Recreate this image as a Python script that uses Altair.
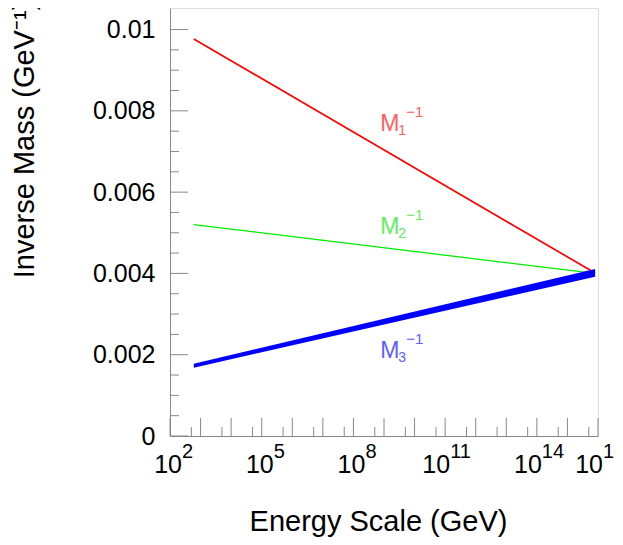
import altair as alt
import pandas as pd

# Line endpoints (energy in GeV, inverse mass in GeV^-1)
energy_ends = [600.0, 8.0e15]
m1_inv = [0.00977, 0.00401]
m2_inv = [0.00520, 0.00400]
m3_inv_low = [0.00168, 0.00392]
m3_inv_high = [0.00178, 0.00411]

# Curve labels
label_energy = [7.5e8, 7.5e8, 7.5e8]
label_value = [0.00750, 0.00497, 0.00191]
label_sub = ["1", "2", "3"]
label_colors = ["#ff6060", "#60ee60", "#6060ff"]

# Axis ticks
x_major_ticks = [1e2, 1e3, 1e4, 1e5, 1e6, 1e7, 1e8, 1e9, 1e10, 1e11, 1e12, 1e13, 1e14, 1e15, 1e16]
x_minor_ticks = [5e2, 5e3, 5e4, 5e5, 5e6, 5e7, 5e8, 5e9, 5e10, 5e11, 5e12, 5e13, 5e14, 5e15]
y_major_ticks = [0.0, 0.002, 0.004, 0.006, 0.008, 0.010]
y_minor_ticks = [0.0005, 0.001, 0.0015, 0.0025, 0.003, 0.0035, 0.0045, 0.005, 0.0055,
                 0.0065, 0.007, 0.0075, 0.0085, 0.009, 0.0095]
x_label_values = [1e2, 1e5, 1e8, 1e11, 1e14, 1e16]
x_label_exponents = ["2", "5", "8", "11", "14", "16"]

FONT = "Liberation Sans"
GRAY = "#888888"

xscale = alt.Scale(type="log", domain=[1e2, 1e16], nice=False)
yscale = alt.Scale(domain=[0, 0.01053], nice=False)

xaxis = alt.Axis(labels=False, ticks=False, tickSize=0, grid=False, domainColor=GRAY,
                 title="Energy Scale (GeV)", titleFont=FONT, titleFontSize=29,
                 titleFontWeight="normal", titleColor="black", titleX=208, titleY=94,
                 titleBaseline="alphabetic", titleAlign="center")
yaxis = alt.Axis(values=y_major_ticks, ticks=False, tickSize=0, grid=False, domainColor=GRAY,
                 labelFont=FONT, labelFontSize=25, labelColor="black", labelPadding=15,
                 labelExpr="datum.value == 0 ? '0' : format(datum.value, '.3~f')",
                 title="Inverse Mass (GeV⁻¹)", titleFont=FONT, titleFontSize=29,
                 titleFontWeight="normal", titleColor="black", titleX=-137, titleY=131,
                 titleBaseline="alphabetic", titleAlign="center")


def X(field):
    return alt.X(f"{field}:Q", scale=xscale, axis=xaxis)


def Y(field):
    return alt.Y(f"{field}:Q", scale=yscale, axis=yaxis)


lines_df = pd.DataFrame({"E": energy_ends, "m1": m1_inv, "m2": m2_inv,
                         "lo": m3_inv_low, "hi": m3_inv_high})

red = alt.Chart(lines_df).mark_line(color="#ff0000", strokeWidth=1.7).encode(x=X("E"), y=Y("m1"))
green = alt.Chart(lines_df).mark_line(color="#00ee00", strokeWidth=1.3).encode(x=X("E"), y=Y("m2"))
blue = alt.Chart(lines_df).mark_area(color="#0000ff", opacity=1).encode(
    x=X("E"), y=Y("lo"), y2="hi:Q")

# Inward ticks
xmaj = alt.Chart(pd.DataFrame({"t": x_major_ticks})).mark_rule(color=GRAY, strokeWidth=1).encode(
    x=X("t"), y=alt.value(428), y2=alt.value(410))
xmin = alt.Chart(pd.DataFrame({"t": x_minor_ticks})).mark_rule(color=GRAY, strokeWidth=1).encode(
    x=X("t"), y=alt.value(428), y2=alt.value(419))
ymaj = alt.Chart(pd.DataFrame({"v": y_major_ticks})).mark_rule(color=GRAY, strokeWidth=1).encode(
    y=Y("v"), x=alt.value(0), x2=alt.value(18))
ymin = alt.Chart(pd.DataFrame({"v": y_minor_ticks})).mark_rule(color=GRAY, strokeWidth=1).encode(
    y=Y("v"), x=alt.value(0), x2=alt.value(9))

# X tick labels: "10" with superscript exponent
xl_df = pd.DataFrame({"e": x_label_values, "exp": x_label_exponents})
xl_df["n"] = xl_df["exp"].str.len()
xl_layers = []
for n, dx in [(1, 12), (2, 5)]:
    base = alt.Chart(xl_df).transform_filter(f"datum.n == {n}")
    xl_layers.append(base.mark_text(text="10", font=FONT, fontSize=25, align="right",
                                    baseline="alphabetic", dx=dx, color="black").encode(
        x=X("e"), y=alt.value(465)))
    xl_layers.append(base.mark_text(font=FONT, fontSize=20, align="left",
                                    baseline="alphabetic", dx=dx, color="black").encode(
        x=X("e"), y=alt.value(450), text="exp:N"))

# Curve labels M_i^-1
lab_df = pd.DataFrame({"E": label_energy, "v": label_value, "sub": label_sub, "c": label_colors})
cscale = alt.Color("c:N", scale=None, legend=None)
lab_m = alt.Chart(lab_df).mark_text(text="M", font=FONT, fontSize=23, align="left",
                                    baseline="alphabetic").encode(x=X("E"), y=Y("v"), color=cscale)
lab_sub = alt.Chart(lab_df).mark_text(font=FONT, fontSize=14, align="left", baseline="alphabetic",
                                      dx=18, dy=4).encode(x=X("E"), y=Y("v"), text="sub:N", color=cscale)
lab_sup = alt.Chart(lab_df).mark_text(text="−1", font=FONT, fontSize=15, align="left",
                                      baseline="alphabetic", dx=26, dy=-14).encode(
    x=X("E"), y=Y("v"), color=cscale)

chart = alt.layer(red, green, blue, xmaj, xmin, ymaj, ymin, *xl_layers, lab_m, lab_sub, lab_sup).properties(
    width=428, height=428,
    autosize=alt.AutoSizeParams(type="none"),
    padding={"left": 162, "top": 0, "right": 17, "bottom": 101},
).configure_view(stroke=GRAY, strokeWidth=1).configure(background="white")

chart.save("out.html", embed_options={"renderer": "svg", "actions": False})
